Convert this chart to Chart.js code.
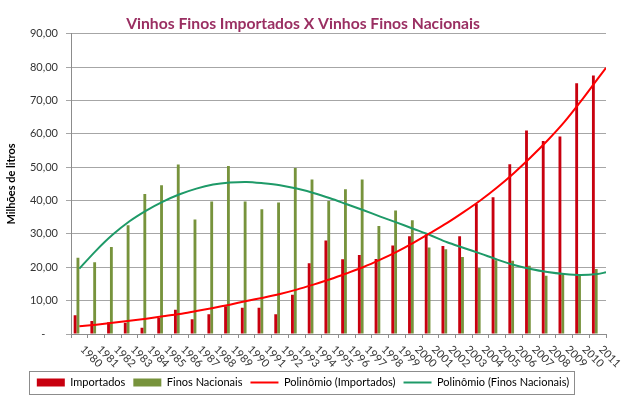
<!DOCTYPE html>
<html>
<head>
<meta charset="utf-8">
<script src="https://cdn.jsdelivr.net/npm/chart.js@4/dist/chart.umd.min.js"></script>
<style>
  html, body { margin: 0; padding: 0; background: #ffffff; }
  #wrap { width: 622px; height: 395px; }
</style>
</head>
<body>
<div id="wrap"><canvas id="c" width="622" height="395"></canvas></div>
<script>
// ---- Data ----
const years = ['1980','1981','1982','1983','1984','1985','1986','1987','1988','1989',
               '1990','1991','1992','1993','1994','1995','1996','1997','1998','1999',
               '2000','2001','2002','2003','2004','2005','2006','2007','2008','2009',
               '2010','2011'];

const importados = [5.6, 3.9, 3.5, 3.4, 1.9, 4.8, 7.3, 4.4, 5.9, 8.3,
                    7.9, 7.9, 5.9, 11.8, 21.2, 28.0, 22.4, 23.7, 22.5, 26.5,
                    29.3, 29.9, 26.4, 29.3, 39.0, 41.0, 50.9, 61.0, 57.9, 59.2,
                    75.2, 77.5];

const nacionais = [22.9, 21.5, 26.1, 32.6, 42.0, 44.6, 50.8, 34.3, 39.7, 50.4,
                   39.7, 37.4, 39.4, 49.8, 46.3, 39.9, 43.4, 46.3, 32.4, 37.0,
                   34.1, 25.9, 25.4, 23.1, 19.8, 22.1, 22.0, 20.5, 17.5, 18.2,
                   17.7, 19.5];

// Trend lines (polynomial fits as drawn in the reference), sampled at each year
// plus the right edge of the plot where the reference line ends.
const trendX = [1980, 1981, 1982, 1983, 1984, 1985, 1986, 1987, 1988, 1989,
                1990, 1991, 1992, 1993, 1994, 1995, 1996, 1997, 1998, 1999,
                2000, 2001, 2002, 2003, 2004, 2005, 2006, 2007, 2008, 2009,
                2010, 2011, 2011.5];

const trendImportados = [2.3, 2.8, 3.4, 4.0, 4.6, 5.3, 6.0, 6.9, 7.8, 8.8,
                         9.9, 10.9, 12.0, 13.3, 14.8, 16.4, 18.2, 20.1, 22.3, 24.7,
                         27.4, 30.3, 33.3, 36.6, 40.1, 44.0, 48.3, 53.0, 58.0, 63.5,
                         69.8, 76.5, 79.8];

const trendNacionais = [19.6, 25.0, 29.8, 33.8, 37.0, 39.7, 41.9, 43.6, 44.8, 45.4,
                        45.6, 45.2, 44.6, 43.6, 42.3, 40.7, 38.9, 37.1, 35.2, 33.4,
                        31.5, 29.6, 27.5, 25.8, 24.1, 22.3, 20.7, 19.5, 18.6, 18.0,
                        17.7, 18.0, 18.5];

const yTickLabels = ['-\u2007\u2007', '10,00', '20,00', '30,00', '40,00', '50,00',
                     '60,00', '70,00', '80,00', '90,00'];

const seriesNames = ['Importados', 'Finos Nacionais',
                     'Polinômio (Importados)', 'Polinômio (Finos Nacionais)'];
const chartTitle = 'Vinhos Finos Importados X Vinhos Finos Nacionais';
const yAxisTitle = 'Milhões de litros';

// ---- Styling ----
const FONT = "Lato, 'Open Sans', sans-serif";
const RED_BAR = '#C8000F';
const GREEN_BAR = '#77933C';
const RED_LINE = '#FF0000';
const GREEN_LINE = '#1E9A68';
const TEXT = '#333333';

const xLabelPlugin = {
  id: 'xLabels',
  afterDraw(chart) {
    const { ctx, chartArea, scales } = chart;
    const xs = scales.x;
    ctx.save();
    ctx.font = '11px ' + FONT;
    ctx.fillStyle = TEXT;
    ctx.textAlign = 'left';
    ctx.textBaseline = 'middle';
    years.forEach((lab, i) => {
      const px = xs.getPixelForValue(i);
      ctx.save();
      ctx.translate(px + 3, chartArea.bottom + 13.5);
      ctx.rotate(Math.PI / 4);
      ctx.fillText(lab, 0, 0);
      ctx.restore();
    });
    // border around the legend
    const boxes = chart.legend && chart.legend.legendHitBoxes;
    if (boxes && boxes.length) {
      const l = Math.min(...boxes.map(b => b.left)) - 8;
      const r = Math.max(...boxes.map(b => b.left + b.width)) + 5;
      const t = Math.min(...boxes.map(b => b.top)) - 6;
      const b = Math.max(...boxes.map(bb => bb.top + bb.height)) + 6;
      ctx.strokeStyle = '#8C8C8C';
      ctx.lineWidth = 1;
      ctx.strokeRect(Math.round(l) + 0.5, Math.round(t) + 0.5, Math.round(r - l), Math.round(b - t));
    }
    ctx.restore();
  }
};

new Chart(document.getElementById('c'), {
  type: 'bar',
  data: {
    labels: years,
    datasets: [
      {
        label: seriesNames[0], data: importados, backgroundColor: RED_BAR,
        xAxisID: 'x', yAxisID: 'y', order: 2, pointStyle: 'rect',
        categoryPercentage: 0.68, barPercentage: 1.0
      },
      {
        label: seriesNames[1], data: nacionais, backgroundColor: GREEN_BAR,
        xAxisID: 'x', yAxisID: 'y', order: 2, pointStyle: 'rect',
        categoryPercentage: 0.68, barPercentage: 1.0
      },
      {
        type: 'line', label: seriesNames[2],
        data: trendX.map((v, i) => ({ x: v, y: trendImportados[i] })),
        xAxisID: 'xt', yAxisID: 'y', order: 1,
        borderColor: RED_LINE, backgroundColor: RED_LINE, borderWidth: 2,
        pointRadius: 0, tension: 0.3, fill: false, pointStyle: 'line'
      },
      {
        type: 'line', label: seriesNames[3],
        data: trendX.map((v, i) => ({ x: v, y: trendNacionais[i] })),
        xAxisID: 'xt', yAxisID: 'y', order: 1,
        borderColor: GREEN_LINE, backgroundColor: GREEN_LINE, borderWidth: 2,
        pointRadius: 0, tension: 0.3, fill: false, pointStyle: 'line'
      }
    ]
  },
  options: {
    responsive: false,
    animation: false,
    devicePixelRatio: 1,
    layout: { padding: { left: 0, right: 16, top: 0, bottom: -3 } },
    scales: {
      x: {
        type: 'category',
        offset: true,
        grid: { offset: true, drawOnChartArea: false, drawTicks: true, tickLength: 4, color: '#8C8C8C' },
        border: { color: '#8C8C8C' },
        ticks: { display: false },
        afterFit: (s) => { s.height = 35; }
      },
      xt: {
        type: 'linear', position: 'bottom', display: true,
        min: 1979.5, max: 2011.5, offset: false,
        ticks: { display: false },
        grid: { display: false, drawTicks: false },
        border: { display: false },
        afterFit: (s) => { s.height = 0; }
      },
      y: {
        min: 0, max: 90,
        ticks: {
          stepSize: 10,
          padding: 8,
          color: TEXT,
          font: { family: FONT, size: 11 },
          callback: (v) => yTickLabels[Math.round(v / 10)]
        },
        grid: { color: '#A6A6A6', tickLength: 5, drawTicks: true },
        border: { color: '#8C8C8C' },
        title: {
          display: true, text: yAxisTitle, color: '#000000',
          font: { family: FONT, size: 11, weight: 'bold' },
          padding: { top: 5, bottom: 0 }
        },
        afterFit: (s) => { s.width = 71; }
      }
    },
    plugins: {
      title: {
        display: true, text: chartTitle, color: '#9A2F62',
        font: { family: FONT, size: 15.7, weight: 'bold' },
        padding: { top: 15, bottom: 0 }
      },
      legend: {
        position: 'bottom',
        labels: {
          usePointStyle: true, pointStyleWidth: 28, boxWidth: 28, boxHeight: 8,
          padding: 8, color: '#000000',
          font: { family: FONT, size: 11 },
          sort: (a, b) => a.datasetIndex - b.datasetIndex
        }
      },
      tooltip: { enabled: false }
    }
  },
  plugins: [xLabelPlugin]
});
</script>
</body>
</html>
